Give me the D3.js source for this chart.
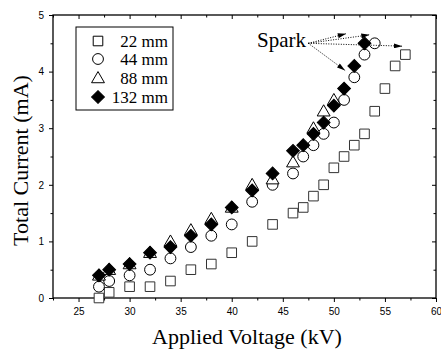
<!DOCTYPE html>
<html><head><meta charset="utf-8">
<script src="https://cdn.jsdelivr.net/npm/d3@7"></script>
<style>body{margin:0;background:#fff}</style>
</head><body>
<svg id="c" width="441" height="352"></svg>
<script>
const x22 = [27,28,30,32,34,36,38,40,42,44,46,47,48,49,50,51,52,53,54,55,56,57];
const v22 = [0,0.1,0.2,0.2,0.3,0.5,0.6,0.8,1.0,1.3,1.5,1.6,1.8,2.0,2.3,2.5,2.7,2.9,3.3,3.7,4.1,4.3];
const x44 = [27,28,30,32,34,36,38,40,42,44,46,47,48,49,50,51,52,53,54];
const v44 = [0.2,0.3,0.4,0.5,0.7,0.9,1.1,1.3,1.7,2.0,2.2,2.5,2.7,2.9,3.1,3.5,3.9,4.3,4.5];
const x88 = [27,28,30,32,34,36,38,40,42,44,46,48,49,50];
const v88 = [0.4,0.5,0.6,0.8,1.0,1.2,1.4,1.6,2.0,2.1,2.4,3.0,3.3,3.5];
const x132 = [27,28,30,32,34,36,38,40,42,44,46,47,48,49,50,51,52,53];
const v132 = [0.4,0.5,0.6,0.8,0.9,1.1,1.3,1.6,1.9,2.2,2.6,2.7,2.9,3.1,3.4,3.7,4.1,4.5];
const seriesNames = ["22 mm","44 mm","88 mm","132 mm"];
const xTicks = [25,30,35,40,45,50,55,60];
const yTicks = [0,1,2,3,4,5];
const sparkFrom = [47.5, 4.5];
const sparkTo = [[51.2,4.67],[53.5,4.65],[56.7,4.45],[51.1,4.02]];

const svg = d3.select("#c");
const L=53, R=436, T=15, B=298;
const x = d3.scaleLinear().domain([22.5,60]).range([L,R]);
const y = d3.scaleLinear().domain([0,5]).range([B,T]);

const tickFont = "Arial, 'Liberation Sans', sans-serif";
const serif = "'Times New Roman', 'Liberation Serif', serif";

const xMinor = d3.range(22.5,60.01,2.5).filter(v=>!xTicks.includes(v));
const yMinor = d3.range(0.5,5,1);

svg.append("rect").attr("x",L).attr("y",T).attr("width",R-L).attr("height",B-T)
  .attr("fill","none").attr("stroke","#000").attr("stroke-width",1.3);

svg.append("g").attr("transform",`translate(0,${B})`)
  .call(d3.axisBottom(x).tickValues(xTicks).tickSize(4).tickPadding(6).tickFormat(d3.format("d")));
svg.append("g").attr("transform",`translate(0,${B})`)
  .call(d3.axisBottom(x).tickValues(xMinor).tickSize(2.5).tickFormat(""));
svg.append("g").attr("transform",`translate(0,${T})`)
  .call(d3.axisBottom(x).tickValues(xTicks).tickSize(4).tickFormat(""));
svg.append("g").attr("transform",`translate(0,${T})`)
  .call(d3.axisBottom(x).tickValues(xMinor).tickSize(2.5).tickFormat(""));
svg.append("g").attr("transform",`translate(${L},0)`)
  .call(d3.axisLeft(y).tickValues(yTicks).tickSize(4).tickPadding(5).tickFormat(d3.format("d")));
svg.append("g").attr("transform",`translate(${L},0)`)
  .call(d3.axisLeft(y).tickValues(yMinor).tickSize(2.5).tickFormat(""));
svg.append("g").attr("transform",`translate(${R},0)`)
  .call(d3.axisLeft(y).tickValues(yTicks).tickSize(4).tickFormat(""));
svg.append("g").attr("transform",`translate(${R},0)`)
  .call(d3.axisLeft(y).tickValues(yMinor).tickSize(2.5).tickFormat(""));

svg.selectAll(".domain").remove();
svg.selectAll(".tick line").attr("stroke","#000").attr("stroke-width",1);
svg.selectAll(".tick text").attr("font-family",tickFont).attr("font-size",10).attr("fill","#000");

svg.append("text").attr("x",247).attr("y",344).attr("text-anchor","middle")
  .attr("font-family",serif).attr("font-size",22).text("Applied Voltage (kV)");
svg.append("text").attr("transform",`translate(28,${(T+B)/2+4}) rotate(-90)`).attr("text-anchor","middle")
  .attr("font-family",serif).attr("font-size",22).text("Total Current (mA)");

const sym = {
  sq: d3.symbol().type(d3.symbolSquare).size(92),
  ci: d3.symbol().type(d3.symbolCircle).size(92),
  tr: d3.symbol().type(d3.symbolTriangle).size(72),
  di: d3.symbol().type(d3.symbolSquare).size(82)
};
function draw(xs, vs, gen, fill, stroke, rot, dy){
  svg.append("g").selectAll("path").data(xs.map((d,i)=>[d,vs[i]])).join("path")
    .attr("d",gen())
    .attr("transform",d=>`translate(${x(d[0])},${y(d[1])+(dy||0)}) rotate(${rot||0})`)
    .attr("fill",fill).attr("stroke",stroke).attr("stroke-width",1);
}
draw(x22,v22,sym.sq,"#fff","#333",0,0);
draw(x44,v44,sym.ci,"#fff","#000",0,0);
draw(x88,v88,sym.tr,"#fff","#000",0,1);
draw(x132,v132,sym.di,"#000","#000",45,0);

const lg = svg.append("g");
lg.append("rect").attr("x",76).attr("y",27).attr("width",97).attr("height",83)
  .attr("fill","#fff").attr("stroke","#000").attr("stroke-width",1);
const lgY = [41,59,78,97];
const gens = [sym.sq, sym.ci, sym.tr, sym.di];
const fills = ["#fff","#fff","#fff","#000"];
const rots = [0,0,0,45];
seriesNames.forEach((n,i)=>{
  lg.append("path").attr("d",gens[i]()).attr("transform",`translate(98,${lgY[i]+(i==2?1:0)}) rotate(${rots[i]})`)
    .attr("fill",fills[i]).attr("stroke","#000").attr("stroke-width",1);
  lg.append("text").attr("x",168).attr("y",lgY[i]+5.5).attr("text-anchor","end")
    .attr("font-family",serif).attr("font-size",17).text(n);
});

svg.append("text").attr("x",257).attr("y",47).attr("font-family",serif).attr("font-size",21).text("Spark");
const defs = svg.append("defs");
defs.append("marker").attr("id","ah").attr("viewBox","0 0 10 6").attr("refX",10).attr("refY",3)
  .attr("markerWidth",9).attr("markerHeight",5).attr("markerUnits","userSpaceOnUse").attr("orient","auto")
  .append("path").attr("d","M0,0L10,3L0,6Z").attr("fill","#000");
sparkTo.forEach(t=>{
  svg.append("line").attr("x1",x(sparkFrom[0])).attr("y1",y(sparkFrom[1]))
    .attr("x2",x(t[0])).attr("y2",y(t[1]))
    .attr("stroke","#000").attr("stroke-width",1).attr("stroke-dasharray","1,1.5")
    .attr("marker-end","url(#ah)");
});
</script>
</body></html>
